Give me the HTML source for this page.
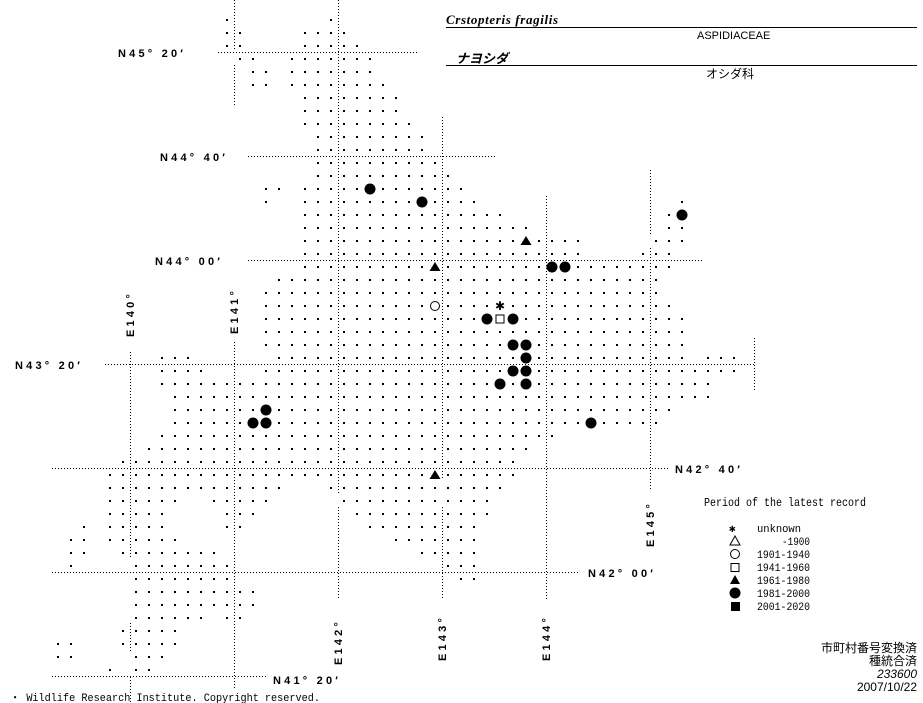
<!DOCTYPE html>
<html><head><meta charset="utf-8"><style>
html,body{margin:0;padding:0;background:#fff;}
svg{display:block;}
.lab{font-family:"Liberation Sans",sans-serif;font-weight:bold;font-size:11px;letter-spacing:3.2px;fill:#000;}
.mono{font-family:"Liberation Mono","Noto Sans CJK JP",monospace;font-size:12px;fill:#000;}
.jp{font-family:"Liberation Sans","Noto Sans CJK JP",sans-serif;font-size:12px;fill:#000;}
</style></head><body>
<svg id="s" width="923" height="703" viewBox="0 0 923 703" xmlns="http://www.w3.org/2000/svg">
<g stroke="#000" stroke-width="1" stroke-dasharray="1,2" fill="none">
<line x1="218" y1="52.5" x2="417" y2="52.5"/>
<line x1="248" y1="156.5" x2="495" y2="156.5"/>
<line x1="248" y1="260.5" x2="703" y2="260.5"/>
<line x1="105" y1="364.5" x2="755" y2="364.5"/>
<line x1="52" y1="468.5" x2="668" y2="468.5"/>
<line x1="52" y1="572.5" x2="578" y2="572.5"/>
<line x1="52" y1="676.5" x2="267" y2="676.5"/>
<line x1="130.5" y1="352" x2="130.5" y2="558"/>
<line x1="130.5" y1="623" x2="130.5" y2="651"/>
<line x1="130.5" y1="677" x2="130.5" y2="703"/>
<line x1="234.5" y1="0" x2="234.5" y2="50"/>
<line x1="234.5" y1="65" x2="234.5" y2="105"/>
<line x1="234.5" y1="342" x2="234.5" y2="688"/>
<line x1="338.5" y1="0" x2="338.5" y2="495"/>
<line x1="338.5" y1="507" x2="338.5" y2="600"/>
<line x1="442.5" y1="117" x2="442.5" y2="478"/>
<line x1="442.5" y1="507" x2="442.5" y2="600"/>
<line x1="546.5" y1="196" x2="546.5" y2="600"/>
<line x1="650.5" y1="170" x2="650.5" y2="235"/>
<line x1="650.5" y1="248" x2="650.5" y2="490"/>
<line x1="754.5" y1="338" x2="754.5" y2="391"/>
</g>
<g id="dots" fill="#000"></g>
<g id="marks"></g>
<text class="lab" x="118" y="57">N45° 20′</text>
<text class="lab" x="160" y="161">N44° 40′</text>
<text class="lab" x="155" y="265">N44° 00′</text>
<text class="lab" x="15" y="369">N43° 20′</text>
<text class="lab" x="675" y="473">N42° 40′</text>
<text class="lab" x="588" y="577">N42° 00′</text>
<text class="lab" x="273" y="684">N41° 20′</text>
<text class="lab" transform="translate(134,337) rotate(-90)">E140°</text>
<text class="lab" transform="translate(238,334) rotate(-90)">E141°</text>
<text class="lab" transform="translate(342,665) rotate(-90)">E142°</text>
<text class="lab" transform="translate(446,661) rotate(-90)">E143°</text>
<text class="lab" transform="translate(550,661) rotate(-90)">E144°</text>
<text class="lab" transform="translate(654,547) rotate(-90)">E145°</text>
<text x="446" y="24" textLength="112" style="font-family:'Liberation Serif',serif;font-style:italic;font-weight:bold;font-size:13px">Crstopteris fragilis</text>
<line x1="446" y1="27.5" x2="917" y2="27.5" stroke="#000"/>
<text class="jp" x="697" y="39" style="font-size:11px">ASPIDIACEAE</text>
<text class="jp" x="456" y="63" style="font-size:13px;font-style:italic;font-weight:bold">ナヨシダ</text>
<line x1="446" y1="65.5" x2="917" y2="65.5" stroke="#000"/>
<text class="jp" x="706" y="78" style="font-size:12px">オシダ科</text>
<text class="mono" x="704" y="506" textLength="162" lengthAdjust="spacingAndGlyphs">Period of the latest record</text>
<g class="mono" style="font-size:11px">
<text x="729" y="532">✱</text><text x="757" y="532" textLength="44" lengthAdjust="spacingAndGlyphs">unknown</text>
<text x="810" y="545" text-anchor="end" textLength="28" lengthAdjust="spacingAndGlyphs">-1900</text>
<text x="757" y="558" textLength="53" lengthAdjust="spacingAndGlyphs">1901-1940</text>
<text x="757" y="571" textLength="53" lengthAdjust="spacingAndGlyphs">1941-1960</text>
<text x="757" y="584" textLength="53" lengthAdjust="spacingAndGlyphs">1961-1980</text>
<text x="757" y="597" textLength="53" lengthAdjust="spacingAndGlyphs">1981-2000</text>
<text x="757" y="610" textLength="53" lengthAdjust="spacingAndGlyphs">2001-2020</text>
</g>
<g fill="none" stroke="#000">
<polygon points="735,536 730,545 740,545"/>
<circle cx="735" cy="554" r="4.5"/>
<rect x="731" y="563.5" width="8" height="8"/>
</g>
<polygon points="735,575 730,584 740,584" fill="#000"/>
<circle cx="735" cy="593" r="5.5" fill="#000"/>
<rect x="731" y="602" width="9" height="9" fill="#000"/>
<g class="jp" text-anchor="end" style="font-size:12px">
<text x="917" y="652">市町村番号変換済</text>
<text x="917" y="665">種統合済</text>
<text x="917" y="678" style="font-style:italic">233600</text>
<text x="917" y="691">2007/10/22</text>
</g>
<text class="mono" x="10" y="701" style="font-size:11px" textLength="310" lengthAdjust="spacingAndGlyphs">・ Wildlife Research Institute. Copyright reserved.</text>
</svg>
<script>
var R={0:[[0],[8]],1:[[0,1],[6,9]],2:[[0,1],[6,10]],3:[[1,2],[5,11]],4:[[2,3],[5,11]],5:[[2,3],[5,12]],
6:[[6,13]],7:[[6,13]],8:[[6,14]],9:[[7,15]],10:[[7,15]],11:[[7,16]],12:[[7,17]],13:[[3,4],[6,18]],
14:[[3],[6,19],[35]],15:[[6,21],[34,35]],16:[[6,23],[34,35]],17:[[6,27],[33,35]],18:[[6,27],[32,34]],
19:[[6,34]],20:[[4,33]],21:[[3,33]],22:[[3,34]],23:[[3,35]],24:[[3,35]],25:[[3,35]],
26:[[-5,-3],[4,35],[37,39]],27:[[-5,-2],[3,39]],28:[[-5,37]],29:[[-4,37]],30:[[-4,34]],31:[[-4,33]],
32:[[-5,25]],33:[[-6,23]],34:[[-8,22]],35:[[-9,22]],36:[[-9,4],[8,21]],37:[[-9,-4],[-1,3],[9,20]],
38:[[-9,-5],[0,2],[10,20]],39:[[-11],[-9,-5],[0,1],[11,19]],40:[[-12,-11],[-9,-4],[13,19]],
41:[[-12,-11],[-8,-1],[15,19]],42:[[-12],[-7,0],[17,19]],43:[[-7,0],[18,19]],44:[[-7,2]],45:[[-7,2]],
46:[[-7,-2],[0,1]],47:[[-8,-4]],48:[[-13,-12],[-8,-4]],49:[[-13,-12],[-7,-5]],50:[[-9],[-7,-6]]};
var M={"13,11":"F","14,15":"F","15,35":"F","19,25":"F","19,26":"F","23,20":"F","23,22":"F","25,22":"F","25,23":"F",
"26,23":"F","27,22":"F","27,23":"F","28,21":"F","28,23":"F","31,28":"F","30,3":"F","31,2":"F","31,3":"F",
"17,23":"T","19,16":"T","35,16":"T","22,16":"O","22,21":"A","23,21":"S"};
var NS="http://www.w3.org/2000/svg",d=document.getElementById("dots"),m=document.getElementById("marks");
function el(t,a,p){var e=document.createElementNS(NS,t);for(var k in a)e.setAttribute(k,a[k]);p.appendChild(e);return e;}
for(var r in R){R[r].forEach(function(s){var a=s[0],b=s.length>1?s[1]:s[0];for(var c=a;c<=b;c++){
if(M[r+","+c])continue;var x=227+13*c,y=20+13*r;el("rect",{x:x-1,y:y-1,width:2,height:2},d);}});}
for(var k in M){var p=k.split(","),x=227+13*p[1],y=20+13*p[0],t=M[k];
if(t=="F")el("circle",{cx:x,cy:y,r:5.5,fill:"#000"},m);
else if(t=="T")el("polygon",{points:(x)+","+(y-5)+" "+(x-5.5)+","+(y+4)+" "+(x+5.5)+","+(y+4),fill:"#000"},m);
else if(t=="O")el("circle",{cx:x,cy:y,r:4.5,fill:"none",stroke:"#000"},m);
else if(t=="S")el("rect",{x:x-4,y:y-4,width:8,height:8,fill:"none",stroke:"#000"},m);
else if(t=="A"){var g=el("text",{x:x,y:y+4,"text-anchor":"middle","font-size":"12","font-family":"DejaVu Sans,sans-serif"},m);g.textContent="✱";}}
</script>
</body></html>
